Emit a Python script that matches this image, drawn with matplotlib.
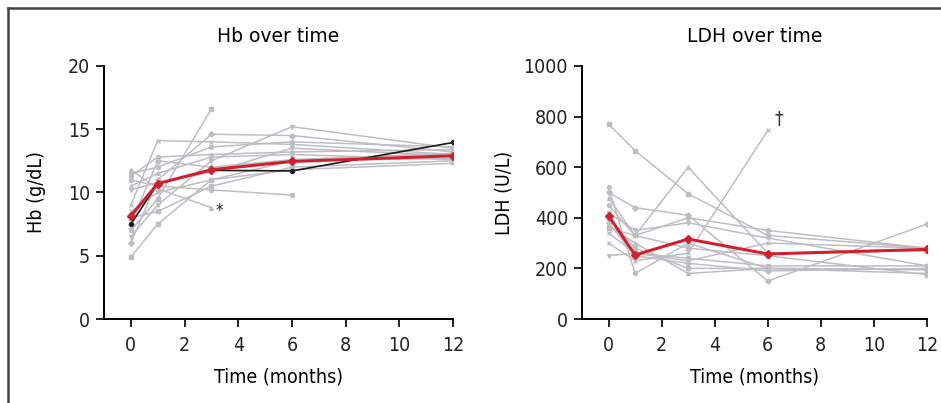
import matplotlib
import matplotlib.pyplot as plt
import numpy as np
from matplotlib.lines import Line2D

nan = np.nan
months = [0, 1, 3, 6, 12]

# Hb per patient (g/dL), NaN = no value
hb_patients = [
    [7.0, 9.5, 16.6, nan, nan],
    [11.0, 10.5, 10.2, 9.8, nan],
    [11.8, 10.3, 8.8, nan, nan],
    [9.0, 14.1, 14.0, 13.8, 13.0],
    [6.0, 11.0, 14.6, 14.5, 13.2],
    [6.5, 9.0, 12.5, 15.2, 13.5],
    [4.9, 7.5, 11.0, 12.5, 12.7],
    [11.3, 12.8, 13.0, 13.2, 13.4],
    [10.5, 11.5, 12.8, 13.0, 12.6],
    [8.5, 10.0, 11.0, 11.8, 12.3],
    [7.5, 12.5, 12.0, 12.6, 13.1],
    [10.2, 10.8, 11.6, 13.5, 12.9],
    [8.0, 8.5, 10.5, 12.0, 12.5],
    [11.5, 12.0, 13.6, 14.0, 13.6],
]
hb_black = [7.5, 10.7, 11.75, 11.7, 13.95]
hb_mean = [8.15, 10.7, 11.8, 12.45, 12.9]

# LDH per patient (U/L)
ldh_patients = [
    [770, 665, 495, 330, 280],
    [520, 180, 300, 200, 195],
    [480, 330, 600, 260, 270],
    [300, 230, 260, 745, nan],
    [500, 440, 410, 150, 375],
    [250, 260, 240, 210, 210],
    [400, 280, 200, 200, 195],
    [450, 330, 400, 350, 280],
    [370, 300, 180, 200, 180],
    [340, 260, 230, 300, 280],
    [380, 250, 220, 190, 200],
    [420, 350, 380, 320, 210],
    [360, 330, 280, 250, 175],
]
ldh_mean = [408, 253, 316, 257, 275]

xticks = [0, 2, 4, 6, 8, 10, 12]
hb_yticks = [0, 5, 10, 15, 20]
ldh_yticks = [0, 200, 400, 600, 800, 1000]

markers = ['s', 'o', '^', 'x', 'D', 'v', 's', 'o', '^', 'x', 'D', 'v', 's', 'o']
gray = '#bdbec2'
red = '#d0202e'


def style_axes(ax, yticks, ylabel, title, ylabel_x):
    ax.set_xlim(-1, 12)
    ax.set_ylim(yticks[0], yticks[-1])
    ax.set_xticks(xticks)
    ax.set_yticks(yticks)
    ax.spines['top'].set_visible(False)
    ax.spines['right'].set_visible(False)
    ax.spines['left'].set_linewidth(1.4)
    ax.spines['bottom'].set_linewidth(1.4)
    ax.tick_params(direction='out', length=6, width=1.4, labelsize=14, colors='#222222')
    ax.tick_params(axis='x', pad=6)
    ax.tick_params(axis='y', pad=4)
    ax.set_xlabel('Time (months)', fontsize=14, labelpad=9)
    ax.set_ylabel(ylabel, fontsize=14)
    ax.yaxis.set_label_coords(ylabel_x, 0.5)
    ax.set_title(title, fontsize=13.5, pad=17, fontstretch='normal')


def main():
    matplotlib.rcParams['font.family'] = ['DejaVu Sans']
    matplotlib.rcParams['font.stretch'] = 'condensed'
    fig = plt.figure(figsize=(9.41, 4.03), dpi=100)
    ax1 = fig.add_axes([0.1105, 0.2084, 0.371, 0.628])
    ax2 = fig.add_axes([0.6185, 0.2084, 0.3666, 0.628])

    for i, p in enumerate(hb_patients):
        y = np.array(p, dtype=float)
        ok = ~np.isnan(y)
        ax1.plot(np.array(months)[ok], y[ok], color=gray, lw=1.1,
                 marker=markers[i % len(markers)], ms=2.8, mfc=gray, mec=gray, zorder=2)
    ax1.plot(months, hb_black, color='#1a1a1a', lw=1.2, marker='o', ms=2.8, zorder=3)
    ax1.plot(months, hb_mean, color=red, lw=2.2, marker='D', ms=4.5, zorder=4)
    ax1.text(3.3, 8.5, '*', fontsize=12, ha='center', va='center', color='#222222')
    style_axes(ax1, hb_yticks, 'Hb (g/dL)', 'Hb over time', -0.165)

    for i, p in enumerate(ldh_patients):
        y = np.array(p, dtype=float)
        ok = ~np.isnan(y)
        ax2.plot(np.array(months)[ok], y[ok], color=gray, lw=1.1,
                 marker=markers[i % len(markers)], ms=2.8, mfc=gray, mec=gray, zorder=2)
    ax2.plot(months, ldh_mean, color=red, lw=2.2, marker='D', ms=4.5, zorder=4)
    ax2.text(6.4, 790, '\u2020', fontsize=14, ha='center', va='center', color='#333333')
    style_axes(ax2, ldh_yticks, 'LDH (U/L)', 'LDH over time', -0.2)

    # frame around the figure (top and left edges)
    fig.add_artist(Line2D([0.0085, 1.0], [0.98, 0.98], transform=fig.transFigure,
                          color='#444444', lw=1.8))
    fig.add_artist(Line2D([0.0085, 0.0085], [0.0, 0.98], transform=fig.transFigure,
                          color='#444444', lw=1.8))

    fig.savefig('out.png', dpi=100)


if __name__ == '__main__':
    main()
